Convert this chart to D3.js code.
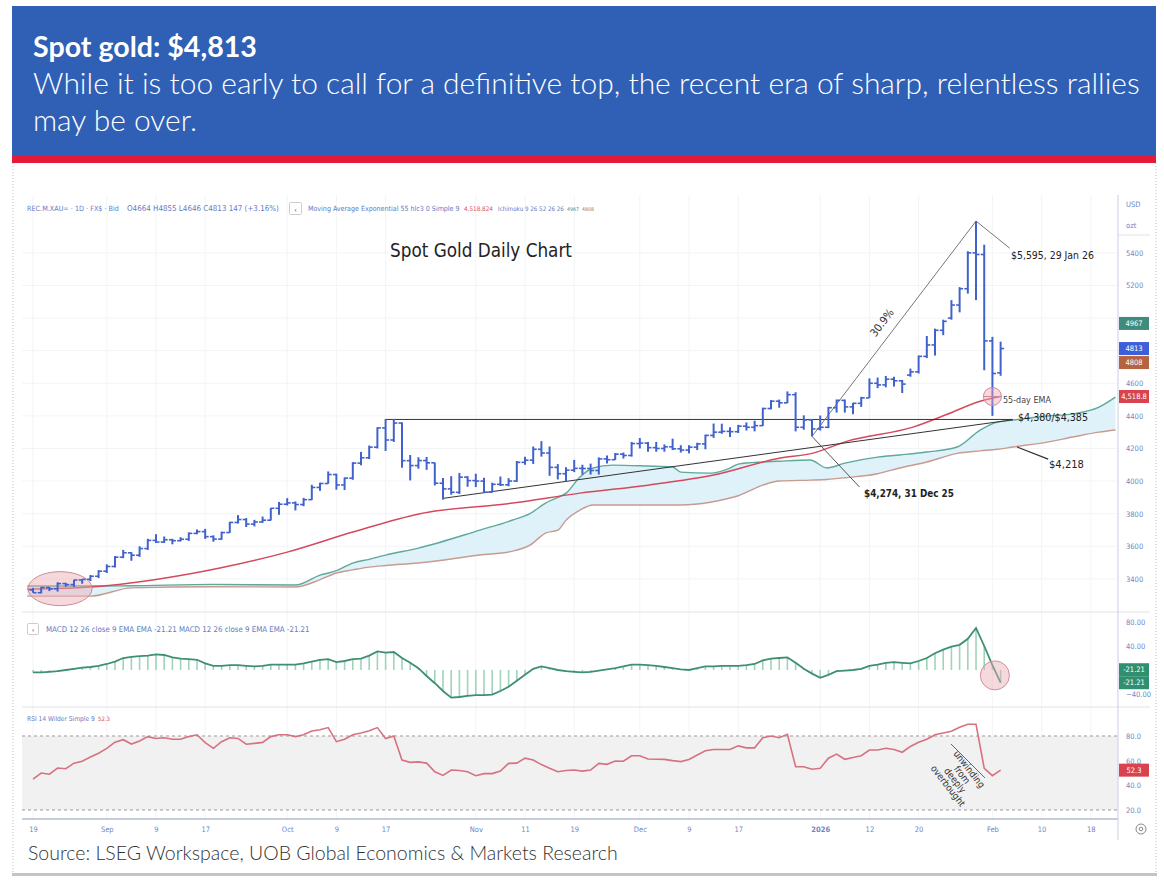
<!DOCTYPE html>
<html><head><meta charset="utf-8">
<script src="https://cdn.jsdelivr.net/npm/d3@7"></script>
<style>body{margin:0;background:#fff}svg{display:block}</style>
</head><body>
<svg id="c" width="1164" height="883"></svg>
<script>
// ---------- DATA ----------
const tickIdx = [0,9,15,21,31,37,43,54,60,66,74,80,86,96,102,108,117,123,129];
const tickLabels = ['19','Sep','9','17','Oct','9','17','Nov','11','19','Dec','9','17','2026','12','20','Feb','10','18'];

const open = [3332,3315,3347,3339,3371,3365,3393,3397,3416,3447,
3476,3533,3560,3545,3586,3636,3626,3640,3634,3643,
3679,3690,3659,3644,3684,3746,3764,3736,3749,3760,
3833,3858,3866,3856,3886,3961,3985,4040,3976,4018,
4110,4143,4208,4326,4252,4356,4125,4095,4126,4112,
3987,3952,3931,4024,4003,4000,3932,3980,3977,4000,
4115,4128,4195,4172,4084,4045,4067,4078,4077,4065,
4136,4131,4165,4157,4230,4233,4205,4200,4210,4198,
4190,4208,4228,4280,4300,4305,4303,4337,4330,4340,
4445,4490,4480,4530,4330,4375,4320,4330,4450,4495,
4455,4477,4510,4600,4590,4625,4615,4650,4670,4765,
4835,4925,5000,5080,5180,5400,5390,4860,4664];
const high = [3345,3350,3351,3379,3376,3394,3398,3424,3453,3489,
3540,3578,3564,3600,3646,3674,3660,3646,3656,3685,
3703,3707,3667,3690,3750,3791,3773,3762,3782,3835,
3872,3895,3875,3897,3977,3990,4059,4045,4022,4116,
4179,4218,4330,4381,4381,4360,4160,4146,4148,4113,
4019,4030,4050,4030,4045,4020,3990,4028,4018,4123,
4149,4212,4245,4212,4104,4085,4130,4100,4107,4145,
4157,4172,4175,4240,4264,4240,4240,4225,4260,4220,
4220,4235,4285,4353,4352,4330,4345,4360,4370,4450,
4497,4500,4550,4545,4403,4380,4402,4455,4500,4500,
4480,4517,4630,4635,4645,4640,4620,4690,4770,4890,
4935,4990,5110,5190,5410,5595,5450,4885,4855];
const low = [3315,3311,3325,3322,3352,3351,3370,3386,3405,3436,
3470,3527,3511,3535,3578,3620,3620,3612,3630,3633,
3674,3645,3628,3640,3683,3740,3718,3722,3744,3758,
3793,3850,3820,3846,3884,3940,3984,3947,3945,4008,
4097,4135,4200,4185,4240,4082,4004,4076,4069,3973,
3886,3916,3921,3965,3963,3930,3930,3970,3968,3995,
4100,4105,4150,4032,4010,3998,4055,4040,4040,4040,
4108,4130,4138,4150,4200,4180,4180,4180,4190,4175,
4170,4190,4195,4265,4290,4270,4295,4310,4305,4338,
4440,4450,4478,4305,4315,4274,4310,4325,4420,4420,
4410,4455,4510,4570,4575,4580,4540,4640,4660,4755,
4770,4895,4990,5035,5150,5110,4680,4400,4646];
const close = [3315,3347,3339,3371,3365,3393,3397,3416,3447,3476,
3533,3560,3545,3586,3636,3626,3640,3634,3643,3679,
3690,3659,3644,3684,3746,3764,3736,3749,3760,3833,
3858,3866,3856,3886,3961,3985,4040,3976,4018,4110,
4143,4208,4326,4252,4356,4125,4095,4126,4112,3987,
3952,3931,4024,4003,4000,3932,3980,3977,4000,4115,
4128,4195,4172,4084,4045,4067,4078,4077,4065,4136,
4131,4165,4157,4230,4233,4205,4200,4210,4198,4190,
4208,4228,4280,4300,4305,4303,4337,4330,4340,4445,
4490,4480,4530,4330,4375,4320,4330,4450,4495,4455,
4477,4510,4600,4590,4625,4615,4595,4670,4765,4835,
4925,4980,5080,5180,5400,5390,4860,4660,4813];

// 55-day EMA (day index, value)
const emaIdx = [-0.7,7,14.6,22.8,31,39,47.2,58.5,66.7,75,83,91,95,99.3,107.3,111.5,115.5,118];
const emaVal = [3337,3350,3393,3466,3564,3687,3800,3865,3926,3975,4037,4140,4170,4245,4331,4410,4490,4519];

// Ichimoku cloud spans (day index, span A, span B)
const cloudIdx = [-0.7,7,12,22,32,35,37,39,41,43,47,54.5,58.5,60.6,62.5,64,65,66.7,68.3,70.7,75,78,79,82.6,85,86,89,91,94.8,96.8,99,103,105.7,109,112.7,115.5,117.6,119.5,123.7,126.8,130,132];
const spanA = [3356,3356,3358,3366,3362,3423,3450,3497,3520,3546,3589,3699,3761,3800,3865,3900,3926,4025,4080,4098,4092,4086,4055,4049,4080,4104,4117,4122,4129,4080,4110,4147,4160,4178,4209,4313,4362,4374,4399,4412,4454,4515];
const spanB = [3294,3294,3345,3352,3350,3395,3436,3455,3472,3482,3497,3546,3570,3607,3681,3699,3760,3822,3853,3853,3853,3853,3853,3870,3896,3910,3975,4000,4006,4010,4020,4045,4080,4117,4170,4185,4195,4209,4239,4270,4300,4313];

// MACD 12 26 9 (per day)
const macd = [-4,-4,-3,-2,0,2,4,5,7,10,
14,20,22,23,24,26,25,21,19,18,
17,11,7,7,8,8,7,6,7,9,
9,9,9,11,14,17,18,13,15,18,
19,24,31,29,30,20,12,3,-10,-22,
-35,-46,-45,-43,-42,-42,-41,-35,-28,-18,
-8,2,6,3,0,-2,-3,-4,-3,-1,
1,3,6,9,9,8,7,5,3,1,
0,3,6,6,7,7,7,8,10,16,
19,20,21,12,2,-6,-13,-8,-2,-1,
0,2,7,9,12,13,12,11,15,20,
28,34,39,42,52,70,40,8,-21.21];

// RSI 14 (per day)
const rsi = [45,50,49,54,53.5,58,59.5,63,66,70,
75,77,73.5,76,79.5,78,78.6,77.4,77.4,79.5,
81,74.6,70,75.4,78.6,78,73.3,74,74.8,79.5,
81,81,79.5,81,84,85,86.8,75.4,77.4,81,
82.4,84.3,86.8,78,80,60.5,58.6,59,58,51,
48,52.4,52,51,47.8,49.5,49.5,51.5,57.8,58,
62,60.5,56.8,53.8,51,52,52.4,51.5,52.4,57.8,
57,59.7,59.5,64,64,61.4,61.2,61,60,59.2,
61,64.6,68,69,69,69,72,70.4,70.4,78.6,
80,78.6,81.4,55.1,55.1,53,53.8,62,65.3,61.1,
62.5,64,68.6,68.6,70,69,66.8,71.5,74.9,77.4,
81,82.4,83.8,87,89.5,89.5,53.8,47.8,52.3];

const priceGrid = [3400,3600,3800,4000,4200,4400,4600,4800,5000,5200,5400];
const priceTicks = [3400,3600,3800,4000,4200,4400,4600,5200,5400];
const macdTicks = [80,40,-40];
const rsiTicks = [80,60,40,20];

// ---------- SETUP ----------
const svg = d3.select('#c');
const narrow = "'Liberation Sans Narrow','DejaVu Sans Condensed','Roboto Condensed','Liberation Sans',sans-serif";
const sans = "Lato,'Open Sans','Noto Sans',sans-serif";
const axisCol = '#6f86c6';
function fit(t, w){ const l=t.node().getComputedTextLength(); const fs=parseFloat(t.attr('font-size')); if(l>0) t.attr('font-size', fs*w/l); return t; }

const x = d3.scaleLinear().domain([-0.73,132.07]).range([27,1116]);
const y = d3.scaleLinear().domain([3209,5755]).range([610,195]);
const ym = d3.scaleLinear().domain([-70,95]).range([712,613]);
const yr = d3.scaleLinear().domain([12.7,103.5]).range([819,707]);

// ---------- HEADER ----------
svg.append('rect').attr('x',12).attr('y',6).attr('width',1144).attr('height',149).attr('fill','#2f60b5');
svg.append('rect').attr('x',12).attr('y',155).attr('width',1144).attr('height',8).attr('fill','#e31b38');
fit(svg.append('text').attr('x',33).attr('y',57).attr('font-family',sans).attr('font-weight',700).attr('font-size',26).attr('fill','#fff').text('Spot gold: $4,813'),224);
const l2 = fit(svg.append('text').attr('x',33).attr('y',94).attr('font-family',sans).attr('font-weight',300).attr('font-size',25).attr('fill','#fff')
  .text('While it is too early to call for a definitive top, the recent era of sharp, relentless rallies'),1107);
svg.append('text').attr('x',33).attr('y',131).attr('font-family',sans).attr('font-weight',300).attr('font-size',l2.attr('font-size')).attr('fill','#fff').text('may be over.');

// frame
svg.append('line').attr('x1',13).attr('x2',13).attr('y1',163).attr('y2',876).attr('stroke','#bbb').attr('stroke-dasharray','1,2');
svg.append('line').attr('x1',1156).attr('x2',1156).attr('y1',163).attr('y2',876).attr('stroke','#bbb').attr('stroke-dasharray','1,2');
svg.append('rect').attr('x',12).attr('y',873).attr('width',1145).attr('height',3).attr('fill','#c4c4c4');

// grid
const g = svg.append('g');
g.selectAll('.vg').data(tickIdx).join('line').attr('x1',d=>x(d)).attr('x2',d=>x(d)).attr('y1',195).attr('y2',819).attr('stroke','#f3f4f7');
g.selectAll('.hg').data(priceGrid).join('line').attr('x1',22).attr('x2',1118).attr('y1',d=>y(d)).attr('y2',d=>y(d)).attr('stroke','#f3f4f7');

// ---------- PRICE PANE ----------
svg.append('clipPath').attr('id','cp').append('rect').attr('x',22).attr('y',195).attr('width',1096).attr('height',417);
const pp = svg.append('g').attr('clip-path','url(#cp)');
const cloud = cloudIdx.map((d,i)=>({i:d,a:spanA[i],b:spanB[i]}));
pp.append('path').datum(cloud).attr('d',d3.area().x(d=>x(d.i)).y0(d=>y(d.b)).y1(d=>y(d.a)).curve(d3.curveMonotoneX)).attr('fill','#dcf0f8').attr('opacity',0.9);
pp.append('path').datum(cloud).attr('d',d3.line().x(d=>x(d.i)).y(d=>y(d.b)).curve(d3.curveMonotoneX)).attr('fill','none').attr('stroke','#c79b90').attr('stroke-width',1.4);
pp.append('path').datum(cloud).attr('d',d3.line().x(d=>x(d.i)).y(d=>y(d.a)).curve(d3.curveMonotoneX)).attr('fill','none').attr('stroke','#5ea99b').attr('stroke-width',1.4);
const ema = emaIdx.map((d,i)=>({i:d,v:emaVal[i]}));
pp.append('path').datum(ema).attr('d',d3.line().x(d=>x(d.i)).y(d=>y(d.v)).curve(d3.curveMonotoneX)).attr('fill','none').attr('stroke','#d4495b').attr('stroke-width',1.5);

// annotation lines
const ann = pp.append('g').attr('fill','none');
ann.append('line').attr('x1',x(43)).attr('x2',x(119.5)).attr('y1',y(4378)).attr('y2',y(4378)).attr('stroke','#333').attr('stroke-width',1);
ann.append('line').attr('x1',x(50)).attr('x2',x(119.5)).attr('y1',y(3894)).attr('y2',y(4376)).attr('stroke','#333').attr('stroke-width',1);
ann.append('polyline').attr('points',[[x(95),y(4274)],[x(115),y(5595)],[x(119.1),y(5429)]].join(' ')).attr('stroke','#777').attr('stroke-width',1);
ann.append('line').attr('x1',x(95)).attr('y1',y(4274)).attr('x2',x(100.8)).attr('y2',y(3963)).attr('stroke','#555').attr('stroke-width',1);
ann.append('line').attr('x1',x(120)).attr('y1',y(4209)).attr('x2',x(123.8)).attr('y2',y(4135)).attr('stroke','#333').attr('stroke-width',1.3);

// pink ellipse at start
pp.append('ellipse').attr('cx',x(3.3)).attr('cy',y(3340)).attr('rx',32).attr('ry',17).attr('fill','rgba(236,170,178,0.45)').attr('stroke','#c98d93').attr('stroke-width',1);

// OHLC bars
const barCol = '#4162cc';
const bars = pp.append('g').attr('stroke',barCol);
close.forEach((c,i)=>{
  const cx = x(i);
  bars.append('line').attr('x1',cx).attr('x2',cx).attr('y1',y(high[i])).attr('y2',y(low[i])).attr('stroke-width',2);
  bars.append('line').attr('x1',cx-3.5).attr('x2',cx).attr('y1',y(open[i])).attr('y2',y(open[i])).attr('stroke-width',1.6);
  bars.append('line').attr('x1',cx).attr('x2',cx+3.5).attr('y1',y(c)).attr('y2',y(c)).attr('stroke-width',1.6);
});
// EMA circle
pp.append('circle').attr('cx',x(117)).attr('cy',y(4519)).attr('r',9).attr('fill','rgba(236,170,185,0.45)').attr('stroke','#d08896').attr('stroke-width',1);
pp.append('line').attr('x1',x(117)-9).attr('x2',x(117)+9).attr('y1',y(4519)).attr('y2',y(4519)).attr('stroke','#d08896');

// annotation texts
const at = (tx,xx,yy,fs,w,opts={})=>{const t=svg.append('text').attr('x',xx).attr('y',yy).attr('font-family',narrow).attr('font-stretch','condensed').attr('font-size',fs).attr('fill',opts.fill||'#222').attr('font-weight',opts.bold?700:400).text(tx); if(opts.anchor) t.attr('text-anchor',opts.anchor); if(w) fit(t,w); return t;};
at('Spot Gold Daily Chart',390,257,20,182);
at('$5,595, 29 Jan 26',1011,259,12,83);
at('55-day EMA',1003,403,10,48,{fill:'#444'});
at('$4,380/$4,385',1018,421,12.5,70);
at('$4,218',1049,468,12,35);
at('$4,274, 31 Dec 25',864,497,10,90,{bold:true});
svg.append('text').attr('transform',`translate(885,325) rotate(-53)`).attr('text-anchor','middle').attr('font-family',narrow).attr('font-size',11).attr('fill','#333').text('30.9%');

// header line of price pane
const hc = '#5f7cc4';
const ht = (tx,xx,w,col)=>fit(svg.append('text').attr('x',xx).attr('y',211).attr('font-family',narrow).attr('font-size',7).attr('fill',col||hc).text(tx),w);
ht('REC.M.XAU= · 1D · FX$ · Bid',27,92);
ht('O4664  H4855  L4646  C4813  147 (+3.16%)',127,152);
svg.append('rect').attr('x',289.5).attr('y',202.5).attr('width',12).attr('height',12).attr('fill','#fff').attr('stroke','#ccc').attr('rx',1);
svg.append('text').attr('x',295.5).attr('y',211.5).attr('text-anchor','middle').attr('font-size',8).attr('fill','#666').text('‹');
ht('Moving Average Exponential 55 hlc3 0 Simple 9',308,152);
ht('4,518.824',464,29,'#d8505c');
ht('Ichimoku 9 26 52 26 26',498,66);
ht('4967',567,12,'#3f8c7c');
ht('4808',582,12,'#b8714d');

// ---------- MACD PANE ----------
svg.append('line').attr('x1',22).attr('x2',1150).attr('y1',612).attr('y2',612).attr('stroke','#e2e2e2');
svg.append('line').attr('x1',22).attr('x2',1150).attr('y1',707).attr('y2',707).attr('stroke','#e2e2e2');
const mp = svg.append('g');
mp.selectAll('.h').data(macd).join('line').attr('x1',(d,i)=>x(i)).attr('x2',(d,i)=>x(i)).attr('y1',ym(0)).attr('y2',d=>ym(d)).attr('stroke','#9fd4b6').attr('stroke-width',1.6);
mp.append('path').datum(macd).attr('d',d3.line().x((d,i)=>x(i)).y(d=>ym(d))).attr('fill','none').attr('stroke','#3e8f75').attr('stroke-width',1.8);
mp.append('circle').attr('cx',x(117.3)).attr('cy',ym(-9)).attr('r',14.5).attr('fill','rgba(236,170,180,0.45)').attr('stroke','#d09098');
svg.append('rect').attr('x',27.5).attr('y',623.5).attr('width',11).attr('height',11).attr('fill','#fff').attr('stroke','#ccc').attr('rx',1);
svg.append('text').attr('x',33).attr('y',632).attr('text-anchor','middle').attr('font-size',8).attr('fill','#666').text('‹');
fit(svg.append('text').attr('x',46).attr('y',632).attr('font-family',narrow).attr('font-size',7).attr('fill',hc).text('MACD 12 26 close 9 EMA EMA   -21.21   MACD 12 26 close 9 EMA EMA   -21.21'),264);

// ---------- RSI PANE ----------
svg.append('rect').attr('x',22).attr('y',yr(80)).attr('width',1096).attr('height',yr(20)-yr(80)).attr('fill','#f1f1f2');
[80,20].forEach(v=>svg.append('line').attr('x1',22).attr('x2',1118).attr('y1',yr(v)).attr('y2',yr(v)).attr('stroke','#9a9a9a').attr('stroke-dasharray','3,3'));
svg.append('path').datum(rsi).attr('d',d3.line().x((d,i)=>x(i)).y(d=>yr(d))).attr('fill','none').attr('stroke','#d6727f').attr('stroke-width',1.6);
fit(svg.append('text').attr('x',27).attr('y',721).attr('font-family',narrow).attr('font-size',7).attr('fill',hc).text('RSI 14 Wilder Simple 9'),68);
fit(svg.append('text').attr('x',98).attr('y',721).attr('font-family',narrow).attr('font-size',7).attr('fill','#d8505c').text('52.3'),12);
// unwinding annotation
svg.append('line').attr('x1',951).attr('y1',744).attr('x2',985).attr('y2',778).attr('stroke','#666').attr('stroke-width',1);
const uw = svg.append('g').attr('transform','translate(958,778) rotate(52)').attr('font-family',narrow).attr('font-size',9.5).attr('fill','#333').attr('text-anchor','middle');
['unwinding','from','deeply','overbought'].forEach((s,k)=>uw.append('text').attr('x',0).attr('y',-11+k*9).text(s));

// ---------- AXES ----------
svg.append('line').attr('x1',22).attr('x2',1118).attr('y1',819).attr('y2',819).attr('stroke','#8e9abb').attr('stroke-width',1);
svg.append('line').attr('x1',1118).attr('x2',1118).attr('y1',195).attr('y2',840).attr('stroke','#c9cfe0');
svg.append('line').attr('x1',1118).attr('x2',1150).attr('y1',235).attr('y2',235).attr('stroke','#e2e2e2');

const xa = svg.append('g').attr('transform','translate(0,824)').call(d3.axisBottom(x).tickValues(tickIdx).tickFormat((d,i)=>tickLabels[i]).tickSize(0));
xa.select('.domain').remove();
xa.selectAll('text').attr('fill',axisCol).attr('font-family',narrow).attr('font-size',7.5).attr('font-weight',(d,i)=>tickLabels[i]==='2026'?700:400);

const ya = svg.append('g').attr('transform','translate(1124,0)').call(d3.axisRight(y).tickValues(priceTicks).tickFormat(d3.format('d')).tickSize(0));
ya.select('.domain').remove();
ya.selectAll('text').attr('fill',axisCol).attr('font-family',narrow).attr('font-size',7.5).attr('x',2);
const yma = svg.append('g').attr('transform','translate(1124,0)').call(d3.axisRight(ym).tickValues(macdTicks).tickFormat(d3.format('.2f')).tickSize(0));
yma.select('.domain').remove();
yma.selectAll('text').attr('fill',axisCol).attr('font-family',narrow).attr('font-size',7.5).attr('x',2);
const yra = svg.append('g').attr('transform','translate(1124,0)').call(d3.axisRight(yr).tickValues(rsiTicks).tickFormat(d3.format('.1f')).tickSize(0));
yra.select('.domain').remove();
yra.selectAll('text').attr('fill',axisCol).attr('font-family',narrow).attr('font-size',7.5).attr('x',2);
svg.append('text').attr('x',1126).attr('y',207).attr('font-family',narrow).attr('font-size',7.5).attr('fill',axisCol).text('USD');
svg.append('text').attr('x',1126).attr('y',228).attr('font-family',narrow).attr('font-size',7.5).attr('fill',axisCol).text('ozt');

// value tags
function tag(yy, txt, col){
  svg.append('rect').attr('x',1119).attr('y',yy-6.5).attr('width',30).attr('height',13).attr('fill',col);
  svg.append('text').attr('x',1134).attr('y',yy+2.6).attr('text-anchor','middle').attr('font-family',narrow).attr('font-size',7.5).attr('fill','#fff').text(txt);
}
tag(y(4967),'4967','#3f8c7c');
tag(y(4813),'4813','#3d5fd9');
tag(y(4813)+14,'4808','#b5643f');
tag(y(4518.8),'4,518.8','#d9434f');
tag(ym(-21.21)-13,'-21.21','#2f8f6f');
tag(ym(-21.21),'-21.21','#2f8f6f');
tag(yr(52.3),'52.3','#d9434f');

// settings icon
svg.append('circle').attr('cx',1141).attr('cy',829).attr('r',5).attr('fill','none').attr('stroke','#888');
svg.append('circle').attr('cx',1141).attr('cy',829).attr('r',1.8).attr('fill','none').attr('stroke','#888');

// source
fit(svg.append('text').attr('x',28).attr('y',860).attr('font-family',sans).attr('font-weight',300).attr('font-size',17).attr('fill','#333').text('Source: LSEG Workspace, UOB Global Economics & Markets Research'),590);
</script>
</body></html>
